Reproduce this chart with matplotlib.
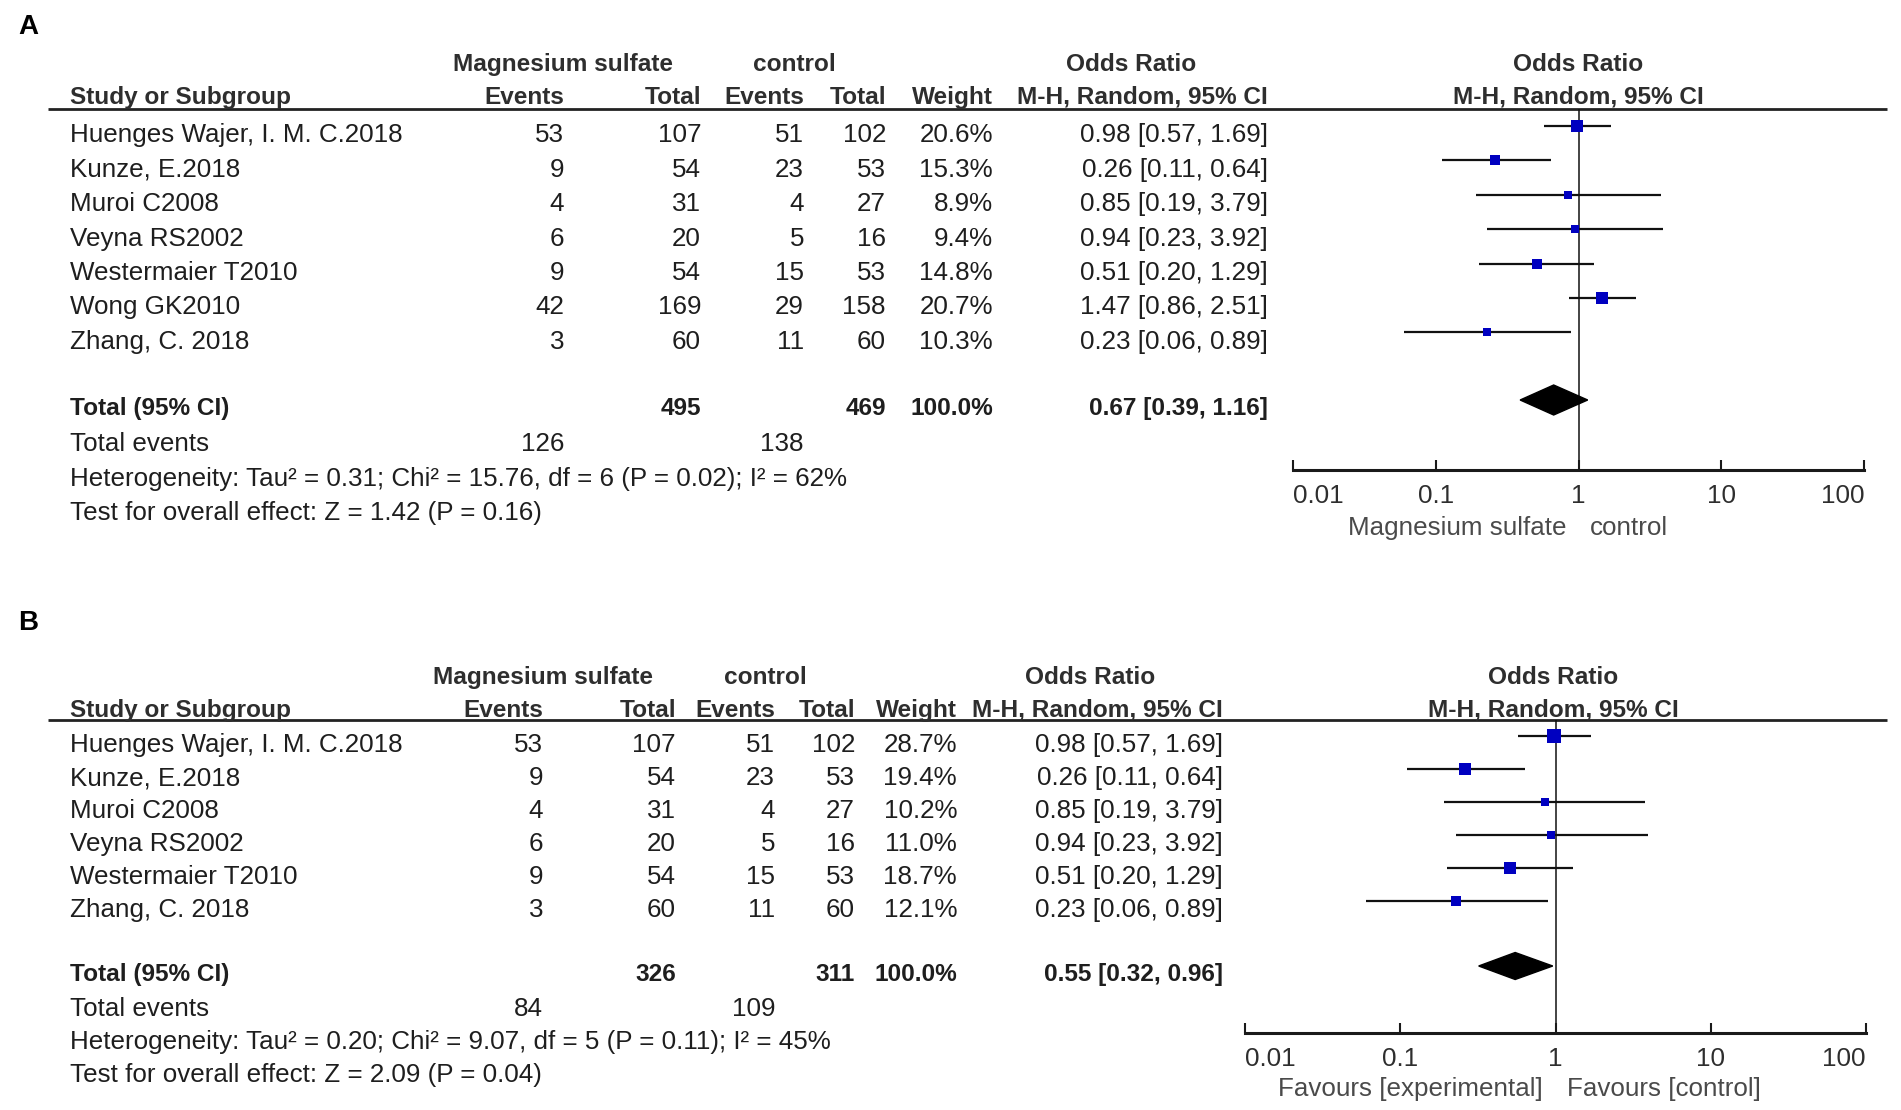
import matplotlib
matplotlib.use("Agg")
import matplotlib.pyplot as plt
from matplotlib.ticker import NullLocator

plt.rcParams['font.family'] = ['Liberation Sans', 'DejaVu Sans']

# ---- data: panel A (all studies) ----
studies_a = ["Huenges Wajer, I. M. C.2018", "Kunze, E.2018", "Muroi C2008", "Veyna RS2002",
             "Westermaier T2010", "Wong GK2010", "Zhang, C. 2018"]
mg_events_a = [53, 9, 4, 6, 9, 42, 3]
mg_total_a = [107, 54, 31, 20, 54, 169, 60]
ctl_events_a = [51, 23, 4, 5, 15, 29, 11]
ctl_total_a = [102, 53, 27, 16, 53, 158, 60]
weight_a = [20.6, 15.3, 8.9, 9.4, 14.8, 20.7, 10.3]
or_a = [0.98, 0.26, 0.85, 0.94, 0.51, 1.47, 0.23]
lo_a = [0.57, 0.11, 0.19, 0.23, 0.20, 0.86, 0.06]
hi_a = [1.69, 0.64, 3.79, 3.92, 1.29, 2.51, 0.89]
pooled_a = (0.67, 0.39, 1.16)
het_a = "Heterogeneity: Tau² = 0.31; Chi² = 15.76, df = 6 (P = 0.02); I² = 62%"
test_a = "Test for overall effect: Z = 1.42 (P = 0.16)"

# ---- data: panel B (Wong GK2010 removed) ----
studies_b = ["Huenges Wajer, I. M. C.2018", "Kunze, E.2018", "Muroi C2008", "Veyna RS2002",
             "Westermaier T2010", "Zhang, C. 2018"]
mg_events_b = [53, 9, 4, 6, 9, 3]
mg_total_b = [107, 54, 31, 20, 54, 60]
ctl_events_b = [51, 23, 4, 5, 15, 11]
ctl_total_b = [102, 53, 27, 16, 53, 60]
weight_b = [28.7, 19.4, 10.2, 11.0, 18.7, 12.1]
or_b = [0.98, 0.26, 0.85, 0.94, 0.51, 0.23]
lo_b = [0.57, 0.11, 0.19, 0.23, 0.20, 0.06]
hi_b = [1.69, 0.64, 3.79, 3.92, 1.29, 0.89]
pooled_b = (0.55, 0.32, 0.96)
het_b = "Heterogeneity: Tau² = 0.20; Chi² = 9.07, df = 5 (P = 0.11); I² = 45%"
test_b = "Test for overall effect: Z = 2.09 (P = 0.04)"

W, H = 1901, 1110
FS = 18.7      # body text
FSB = 17.6     # bold headers
BODY = '#1e1e1e'
HEAD = '#2e2e2e'
SQ = '#0000c0'

fig = plt.figure(figsize=(W / 100, H / 100), dpi=100)
ax = fig.add_axes([0, 0, 1, 1])
ax.set_xlim(0, W)
ax.set_ylim(H, 0)
ax.axis('off')


def txt(x, y, s, ha='left', bold=False, color=BODY, size=None):
    # y is the visual centre of the capitals, in pixels from the top
    if size is None:
        size = FSB if bold else FS
    ax.text(x, y + 0.36 * size * 100 / 72, s, ha=ha, va='baseline', fontsize=size,
            fontweight='bold' if bold else 'normal', color=color)


def panel(letter, c, studies, ev1, tot1, ev2, tot2, wts, ors, los, his, pooled, het, test,
          left_lab, right_lab):
    txt(18, c['label'], letter, bold=True, color='black', size=20)

    # headers
    txt(c['mg_c'], c['h1'], "Magnesium sulfate", ha='center', bold=True, color=HEAD)
    txt(c['ctl_c'], c['h1'], "control", ha='center', bold=True, color=HEAD)
    txt(c['or_c'], c['h1'], "Odds Ratio", ha='center', bold=True, color=HEAD)
    txt(c['ror_c'], c['h1'], "Odds Ratio", ha='center', bold=True, color=HEAD)
    txt(70, c['h2'], "Study or Subgroup", bold=True, color=HEAD)
    txt(c['ev1'], c['h2'], "Events", ha='right', bold=True, color=HEAD)
    txt(c['tot1'], c['h2'], "Total", ha='right', bold=True, color=HEAD)
    txt(c['ev2'], c['h2'], "Events", ha='right', bold=True, color=HEAD)
    txt(c['tot2'], c['h2'], "Total", ha='right', bold=True, color=HEAD)
    txt(c['w'], c['h2'], "Weight", ha='right', bold=True, color=HEAD)
    txt(c['ci'], c['h2'], "M-H, Random, 95% CI", ha='right', bold=True, color=HEAD)
    txt(c['ror_c'], c['h2'], "M-H, Random, 95% CI", ha='center', bold=True, color=HEAD)
    ax.plot([48, 1887], [c['line'], c['line']], color='#222222', lw=2.0, solid_capstyle='butt')

    # study rows
    ys = [c['row0'] + i * c['dy'] for i in range(len(studies))]
    for i, y in enumerate(ys):
        txt(70, y, studies[i])
        txt(c['ev1'], y, str(ev1[i]), ha='right')
        txt(c['tot1'], y, str(tot1[i]), ha='right')
        txt(c['ev2'], y, str(ev2[i]), ha='right')
        txt(c['tot2'], y, str(tot2[i]), ha='right')
        txt(c['w'], y, f"{wts[i]:.1f}%", ha='right')
        txt(c['ci'], y, f"{ors[i]:.2f} [{los[i]:.2f}, {his[i]:.2f}]", ha='right')

    # totals
    ty = c['total']
    txt(70, ty, "Total (95% CI)", bold=True)
    txt(c['tot1'], ty, str(sum(tot1)), ha='right', bold=True)
    txt(c['tot2'], ty, str(sum(tot2)), ha='right', bold=True)
    txt(c['w'], ty, "100.0%", ha='right', bold=True)
    txt(c['ci'], ty, f"{pooled[0]:.2f} [{pooled[1]:.2f}, {pooled[2]:.2f}]", ha='right', bold=True)
    txt(70, c['events'], "Total events")
    txt(c['ev1'], c['events'], str(sum(ev1)), ha='right')
    txt(c['ev2'], c['events'], str(sum(ev2)), ha='right')
    txt(70, c['het'], het)
    txt(70, c['test'], test)

    # forest plot axes, y in figure pixels
    x0, x1 = c['fx']
    fax = fig.add_axes([x0 / W, 1 - c['axis'] / H, (x1 - x0) / W, (c['axis'] - c['line']) / H])
    fax.set_xscale('log')
    fax.set_xlim(0.01, 100)
    fax.set_ylim(c['axis'], c['line'])
    fax.patch.set_alpha(0)
    for s in ['top', 'left', 'right']:
        fax.spines[s].set_visible(False)
    fax.spines['bottom'].set_linewidth(2.2)
    fax.spines['bottom'].set_color('#1a1a1a')
    fax.set_yticks([])
    fax.xaxis.set_minor_locator(NullLocator())
    fax.set_xticks([0.01, 0.1, 1, 10, 100], ["0.01", "0.1", "1", "10", "100"])
    fax.tick_params(axis='x', direction='in', length=7.5, width=1.5, pad=10.0,
                    labelsize=FS, labelcolor=HEAD, color='#1a1a1a')
    labs = fax.get_xticklabels()
    labs[0].set_ha('left')
    labs[-1].set_ha('right')
    fax.axvline(1, color='#111111', lw=1.1, zorder=1)

    for i, y in enumerate(ys):
        my = y - 7
        fax.plot([los[i], his[i]], [my, my], color='#111111', lw=1.6, zorder=2,
                 solid_capstyle='butt', clip_on=False)
        side = 2.6 * wts[i] ** 0.5 * 0.72
        fax.scatter([ors[i]], [my], marker='s', s=side ** 2, color=SQ, zorder=3,
                    linewidths=0, clip_on=False)
    dy = ty - 6
    hh = c['dh'] / 2
    fax.fill([pooled[1], pooled[0], pooled[2], pooled[0]], [dy, dy - hh, dy, dy + hh],
             color='black', zorder=3, clip_on=False)

    # favours labels
    txt(c['mid'] - 12, c['fav'], left_lab, ha='right', color='#4a4a4a')
    txt(c['mid'] + 12, c['fav'], right_lab, ha='left', color='#4a4a4a')


lay_a = dict(label=24, h1=62, h2=95, line=109, row0=133, dy=34.4, total=406, events=442,
             het=477, test=511, axis=470, fav=526, fx=(1293, 1864), dh=30, mid=1578,
             ev1=564, tot1=701, ev2=804, tot2=886, w=993, ci=1268,
             mg_c=563, ctl_c=794, or_c=1131, ror_c=1578)
lay_b = dict(label=620, h1=675, h2=708, line=720, row0=743, dy=33.0, total=972, events=1007,
             het=1040, test=1073, axis=1033, fav=1087, fx=(1245, 1866), dh=27, mid=1555,
             ev1=543, tot1=676, ev2=775, tot2=855, w=957, ci=1223,
             mg_c=543, ctl_c=765, or_c=1090, ror_c=1553)

panel("A", lay_a, studies_a, mg_events_a, mg_total_a, ctl_events_a, ctl_total_a, weight_a,
      or_a, lo_a, hi_a, pooled_a, het_a, test_a, "Magnesium sulfate", "control")
panel("B", lay_b, studies_b, mg_events_b, mg_total_b, ctl_events_b, ctl_total_b, weight_b,
      or_b, lo_b, hi_b, pooled_b, het_b, test_b, "Favours [experimental]", "Favours [control]")

fig.savefig("out.png", dpi=100)
